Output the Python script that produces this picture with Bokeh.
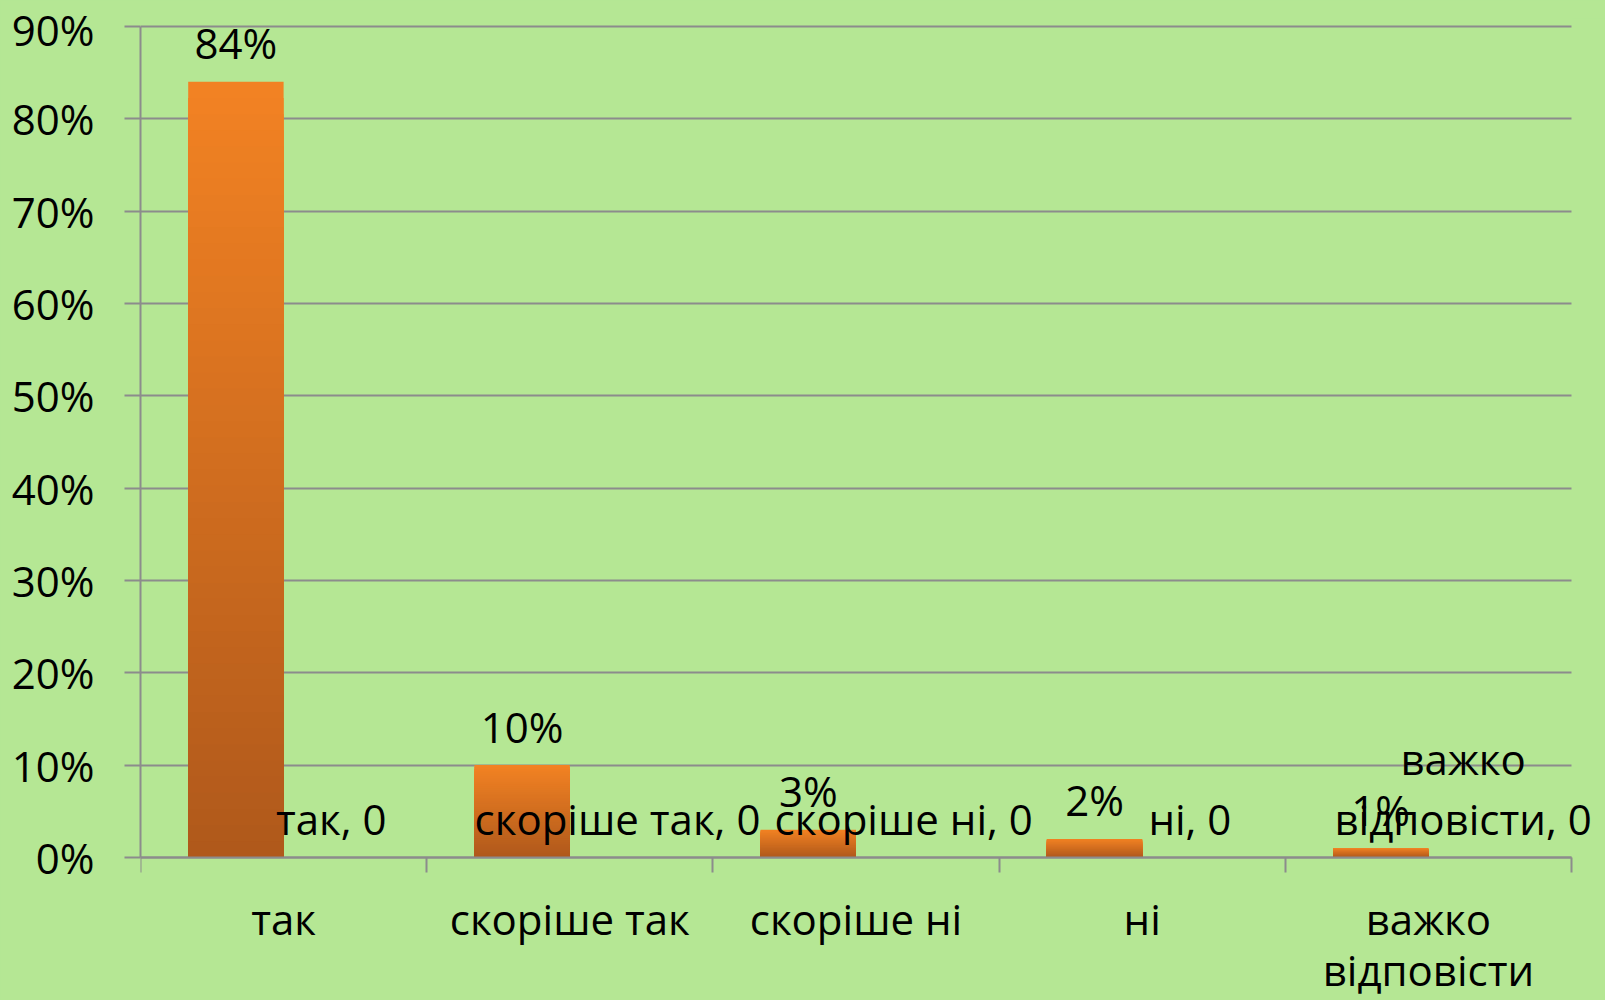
from bokeh.plotting import figure
from bokeh.models import (Range1d, FixedTicker, PrintfTickFormatter, LinearAxis,
                          ColumnDataSource, LabelSet, Grid, BoxAnnotation)
from bokeh.core.properties import value
from bokeh.embed import file_html
from bokeh.resources import INLINE

# ---- data ----
categories = ["так", "скоріше так", "скоріше ні", "ні", "важко відповісти"]
series1 = [84, 10, 3, 2, 1]          # percent
series2 = [0, 0, 0, 0, 0]            # second (empty) series
y_ticks = [0, 10, 20, 30, 40, 50, 60, 70, 80, 90]

# ---- style ----
BG = "#B5E794"
GRID = "#8C8C8C"
TOP_C = (242, 130, 35)
BOT_C = (176, 89, 27)
FONT = "Open Sans"
FS = "42px"
LINE_GAP = 59.5          # px between wrapped lines (data labels)
CAT_GAP = 51             # px between wrapped lines (category labels)
ser2_dx = [0, 0, 0, 0, -13]   # keep last label inside chart


def wrap(label, limit=12):
    if len(label) > limit and " " in label:
        a, b = label.split(" ", 1)
        return [a, b]
    return [label]


n = len(categories)
CAT_PX = 286.2
p = figure(width=1605, height=1000,
           x_range=Range1d(0, n + 34 / CAT_PX), y_range=Range1d(-15.5, 90.86),
           x_axis_location=None, output_backend="svg", toolbar_location=None,
           min_border_left=140, min_border_right=0, min_border_top=18, min_border_bottom=0,
           background_fill_color=BG, border_fill_color=BG, outline_line_color=None,
           styles={"background-color": BG})

p.center = [r for r in p.center if not (isinstance(r, Grid) and r.dimension == 0)]

yax = p.yaxis[0]
yax.ticker = FixedTicker(ticks=y_ticks, minor_ticks=[])
yax.formatter = PrintfTickFormatter(format="%d%%")
yax.bounds = (0, 90)
yax.major_tick_out = 16
yax.major_tick_in = 0
yax.minor_tick_out = 0
yax.minor_tick_in = 0
yax.axis_line_color = GRID
yax.axis_line_width = 2
yax.major_tick_line_color = GRID
yax.major_tick_line_width = 2
yax.major_label_standoff = 30
yax.major_label_text_font = FONT
yax.major_label_text_font_size = FS
yax.major_label_text_color = "black"

p.ygrid.grid_line_color = GRID
p.ygrid.grid_line_width = 2
# grid ends at the last category boundary
p.add_layout(BoxAnnotation(left=n, fill_color=BG, fill_alpha=1.0, line_color=None,
                           level="underlay"))

xax = LinearAxis(fixed_location=0, bounds=(0, n),
                 ticker=FixedTicker(ticks=list(range(n + 1)), minor_ticks=[]),
                 major_tick_out=15, major_tick_in=0, minor_tick_out=0, minor_tick_in=0,
                 axis_line_color=GRID, axis_line_width=2,
                 major_tick_line_color=GRID, major_tick_line_width=2,
                 major_label_text_font_size="0px", major_label_text_color=None)
p.add_layout(xax, "below")

# ---- gradient bars (series 1) ----
N = 48
L, R, B, T, C = [], [], [], [], []
for k in range(N - 1, -1, -1):
    f = k / (N - 1)
    col = "#%02x%02x%02x" % tuple(round(BOT_C[j] + (TOP_C[j] - BOT_C[j]) * f) for j in range(3))
    for i, v in enumerate(series1):
        L.append(i + 1 / 6)
        R.append(i + 1 / 2)
        B.append(0)
        T.append(v * (k + 1) / N)
        C.append(col)
p.quad(left=L, right=R, bottom=B, top=T, fill_color=C, line_color=None)

# series 2 bars (zero height)
p.quad(left=[i + 1 / 2 for i in range(n)], right=[i + 5 / 6 for i in range(n)],
       bottom=[0] * n, top=series2, fill_color="#F08022", line_color=None)

# ---- value labels series 1 ----
p.text(x=[i + 1 / 3 for i in range(n)], y=series1, text=[f"{v}%" for v in series1],
       text_align="center", text_baseline="middle", y_offset=-39,
       text_font=value(FONT), text_font_size=FS, text_color="black")

# ---- labels series 2 ("name, value") ----
sx, sy, st, sdx, sdy = [], [], [], [], []
for i, (c, v) in enumerate(zip(categories, series2)):
    lines = wrap(f"{c}, {v}", limit=14)
    m = len(lines)
    for j, ln in enumerate(lines):
        sx.append(i + 2 / 3)
        sy.append(v)
        st.append(ln)
        sdx.append(ser2_dx[i])
        sdy.append(39 + (m - 1 - j) * LINE_GAP)
src2 = ColumnDataSource(dict(x=sx, y=sy, text=st, dx=sdx, dy=sdy))
p.add_layout(LabelSet(x="x", y="y", text="text", x_offset="dx", y_offset="dy", source=src2,
                      text_align="center", text_baseline="middle",
                      text_font=value(FONT), text_font_size=FS, text_color="black"))

# ---- category labels ----
cx, cy, ct, cdy = [], [], [], []
for i, c in enumerate(categories):
    for j, ln in enumerate(wrap(c)):
        cx.append(i + 0.5)
        cy.append(0)
        ct.append(ln)
        cdy.append(-(61 + j * CAT_GAP))
src3 = ColumnDataSource(dict(x=cx, y=cy, text=ct, dy=cdy))
p.add_layout(LabelSet(x="x", y="y", text="text", y_offset="dy", source=src3,
                      text_align="center", text_baseline="middle",
                      text_font=value(FONT), text_font_size=FS, text_color="black"))

open("out.html", "w").write(file_html(p, INLINE))
